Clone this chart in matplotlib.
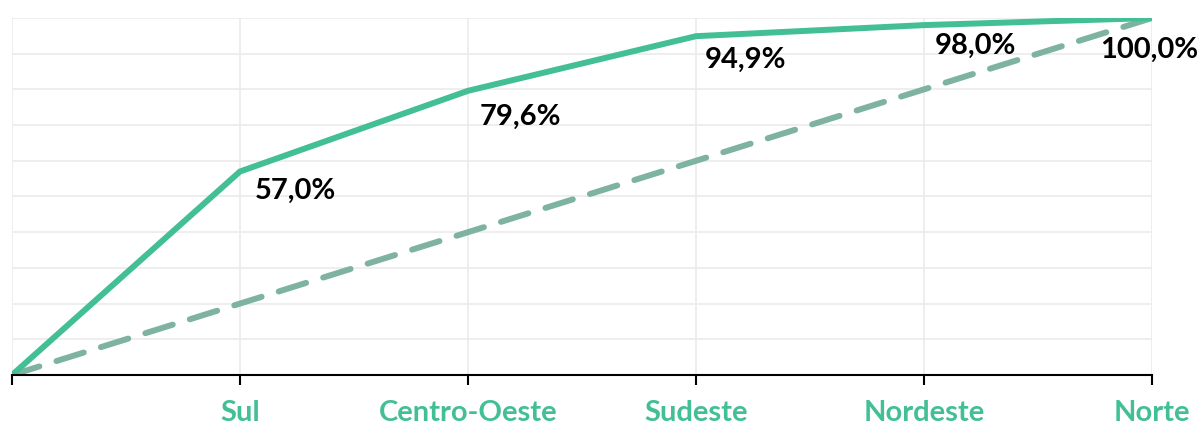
import matplotlib.pyplot as plt

# regions in cumulative order, the first point is the origin
regioes = ['', 'Sul', 'Centro-Oeste', 'Sudeste', 'Nordeste', 'Norte']
acumulado = [0.0, 57.0, 79.6, 94.9, 98.0, 100.0]
igualdade = [0, 20, 40, 60, 80, 100]
rotulos = ['57,0%', '79,6%', '94,9%', '98,0%', '100,0%']

# label offsets in pixels from each point
offsets = [(15, -19), (12, -26), (9, -24), (11, -21), (-52, -32)]

verde = '#43BF95'
verde_cinza = '#7DB39F'

plt.rcParams['font.family'] = ['Lato', 'DejaVu Sans']

fig = plt.figure(figsize=(12, 4.24), dpi=100)
ax = fig.add_axes([0.01, 0.1156, 0.95, 0.842])

x = list(range(len(regioes)))
ax.plot(x, igualdade, color=verde_cinza, lw=4.3, dashes=(4.8, 3), solid_capstyle='round',
        dash_capstyle='round', zorder=3)
ax.plot(x, acumulado, color=verde, lw=4.3, solid_joinstyle='miter', zorder=4)

for xi, v, txt, off in zip(x[1:], acumulado[1:], rotulos, offsets):
    ax.annotate(txt, (xi, v), xytext=off, textcoords='offset pixels',
                ha='left', va='center', fontsize=21, fontweight='bold', color='black', zorder=5)

ax.set_xlim(0, len(regioes) - 1)
ax.set_ylim(0, 100)
ax.set_xticks(x)
ax.set_xticklabels(regioes, fontsize=21, fontweight='bold', color=verde)
ax.set_yticks(range(0, 101, 10))
ax.tick_params(axis='y', length=0, labelleft=False)
ax.tick_params(axis='x', length=7, width=1.5, pad=11, color='black')
ax.grid(True, color='#EBEBEB', lw=1.2)
ax.set_axisbelow(True)

for s in ['top', 'right', 'left']:
    ax.spines[s].set_visible(False)
ax.spines['bottom'].set_linewidth(1.5)
ax.spines['bottom'].set_zorder(6)

fig.savefig('out.png', dpi=100)
